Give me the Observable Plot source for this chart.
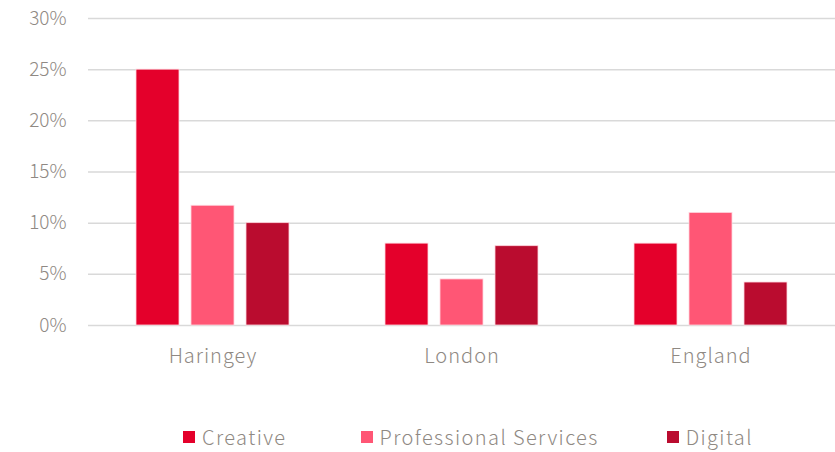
<!DOCTYPE html>
<html><head><meta charset="utf-8">
<script src="https://cdn.jsdelivr.net/npm/d3@7"></script>
<script src="https://cdn.jsdelivr.net/npm/@observablehq/plot@0.6"></script>
<style>
body{margin:0;background:#fff;font-family:"Noto Sans CJK JP","Noto Sans",sans-serif;position:relative;width:835px;height:452px;overflow:hidden;}
#chart svg{display:block;}
#legend{position:absolute;left:183px;top:423px;height:28px;display:flex;align-items:center;font-size:20px;line-height:28px;letter-spacing:1.4px;color:#8f8983;font-weight:300;white-space:nowrap;}
#legend .item{display:flex;align-items:center;}
#legend .sw{width:12px;height:12px;margin-right:7px;}
.fxlab text{font-size:20px;letter-spacing:1px;}
</style></head><body>
<div id="chart"></div>
<div id="legend"></div>
<script>
const regions = ["Haringey", "London", "England"];
const series = ["Creative", "Professional Services", "Digital"];
const colors = ["#E4002B", "#FF5675", "#BA0C2F"];
const creative = [25.0, 8.0, 8.0];
const professional = [11.7, 4.5, 11.0];
const digital = [10.0, 7.75, 4.2];
const yTicks = [0, 5, 10, 15, 20, 25, 30];

const valuesBySeries = [creative, professional, digital];
const data = [];
regions.forEach((r, i) => series.forEach((s, j) => data.push({region: r, series: s, value: valuesBySeries[j][i]})));

const chart = Plot.plot({
  width: 835, height: 400,
  marginLeft: 87, marginRight: 0, marginTop: 18, marginBottom: 75,
  style: {fontFamily: '"Noto Sans CJK JP","Noto Sans",sans-serif', fontSize: "19px", fontWeight: 300, color: "#8f8983", background: "#fff"},
  fx: {domain: regions, padding: 0, label: null, axis: null},
  x: {domain: series, paddingInner: 0.214, paddingOuter: 0.833, axis: null},
  y: {domain: [0, 30], ticks: yTicks, tickFormat: d => d + "%", label: null, tickSize: 0, tickPadding: 22},
  color: {domain: series, range: colors},
  marks: [
    Plot.ruleY(yTicks, {stroke: "#d9d9d9", strokeWidth: 1.5}),
    Plot.barY(data, {fx: "region", x: "series", y: "value", fill: "series", stroke: "#ffd6de", strokeWidth: 0.8}),
    Plot.axisFx({domain: regions, anchor: "bottom", tickSize: 0, tickPadding: 23, label: null, className: "fxlab"})
  ]
});
document.getElementById("chart").appendChild(chart);

const legend = document.getElementById("legend");
const gaps = [74, 68, 0];
series.forEach((s, i) => {
  const it = document.createElement("div");
  it.className = "item";
  it.style.marginRight = gaps[i] + "px";
  const sw = document.createElement("span");
  sw.className = "sw"; sw.style.background = colors[i];
  const t = document.createElement("span");
  t.textContent = s;
  it.appendChild(sw); it.appendChild(t);
  legend.appendChild(it);
});
</script>
</body></html>
